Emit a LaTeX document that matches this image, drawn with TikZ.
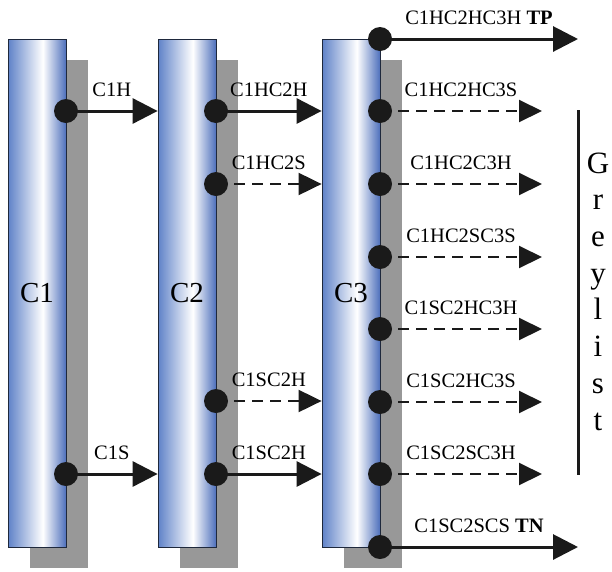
\documentclass[tikz,border=0pt]{standalone}
\usepackage{fontspec}
\setmainfont{Liberation Serif}
\usetikzlibrary{arrows.meta,shadows}
\definecolor{cl}{RGB}{95,130,200}
\definecolor{cr}{RGB}{78,112,188}
\definecolor{shadowgray}{RGB}{152,152,152}
\definecolor{dotc}{RGB}{26,26,26}
\definecolor{edge}{RGB}{30,40,60}
\pgfdeclarehorizontalshading{colshade}{100bp}{color(0bp)=(cl); color(25bp)=(cl); color(55bp)=(white); color(75bp)=(cr); color(100bp)=(cr)}
\begin{document}
\begin{tikzpicture}[x=1pt,y=-1pt,
  col/.style={draw=edge, line width=0.8pt, shade, shading=colshade, minimum width=58pt, minimum height=508pt, inner sep=0pt, font=\fontsize{29}{30}\selectfont, drop shadow={shadow xshift=22pt, shadow yshift=-21pt, fill=shadowgray, opacity=1}},
  dot/.style={circle, fill=dotc, minimum size=24pt, inner sep=0pt},
  sarrow/.style={line width=3pt, draw=dotc, -{Triangle[length=25pt,width=25pt]}},
  darrow/.style={line width=2pt, draw=dotc, dash pattern=on 11pt off 7pt, -{Triangle[length=23pt,width=22pt]}},
  lab/.style={font=\fontsize{20.5}{24}\selectfont, inner sep=0pt, anchor=base, yshift=15pt}]
\useasboundingbox (0,0) rectangle (612,571);
% columns
\node[col] (c1) at (37,293) {C1};
\node[col] (c2) at (187,293) {C2};
\node[col] (c3) at (351,293) {C3};
% dots
\node[dot] (a1) at (66,111) {};
\node[dot] (a2) at (66,474) {};
\node[dot] (b1) at (216,111) {};
\node[dot] (b2) at (216,184) {};
\node[dot] (b3) at (216,401) {};
\node[dot] (b4) at (216,474) {};
\node[dot] (t0) at (380,39) {};
\node[dot] (t1) at (380,111) {};
\node[dot] (t2) at (380,184) {};
\node[dot] (t3) at (380,257) {};
\node[dot] (t4) at (380,329) {};
\node[dot] (t5) at (380,402) {};
\node[dot] (t6) at (380,474) {};
\node[dot] (t7) at (380,547) {};
\coordinate (dend) at (542,0);
\coordinate (send) at (578,0);
% stage 1
\draw[sarrow] (a1.center) -- (a1 -| c2.west) node[lab, midway] {C1H};
\draw[sarrow] (a2.center) -- (a2 -| c2.west) node[lab, midway] {C1S};
% stage 2
\draw[sarrow] (b1.center) -- (b1 -| c3.west) node[lab, midway] {C1HC2H};
\draw[darrow] (b2.center) -- (b2 -| c3.west) node[lab, midway] {C1HC2S};
\draw[darrow] (b3.center) -- (b3 -| c3.west) node[lab, midway] {C1SC2H};
\draw[sarrow] (b4.center) -- (b4 -| c3.west) node[lab, midway] {C1SC2H};
% stage 3
\draw[sarrow] (t0.center) -- (t0 -| send) node[lab, midway] {C1HC2HC3H \textbf{TP}};
\draw[darrow] (t1.center) -- (t1 -| dend) node[lab, midway] {C1HC2HC3S};
\draw[darrow] (t2.center) -- (t2 -| dend) node[lab, midway] {C1HC2C3H};
\draw[darrow] (t3.center) -- (t3 -| dend) node[lab, midway] {C1HC2SC3S};
\draw[darrow] (t4.center) -- (t4 -| dend) node[lab, midway] {C1SC2HC3H};
\draw[darrow] (t5.center) -- (t5 -| dend) node[lab, midway] {C1SC2HC3S};
\draw[darrow] (t6.center) -- (t6 -| dend) node[lab, midway] {C1SC2SC3H};
\draw[sarrow] (t7.center) -- (t7 -| send) node[lab, midway] {C1SC2SCS \textbf{TN}};
% greylist
\coordinate (g1) at (578,110);
\coordinate (g2) at (578,475);
\draw[line width=3pt, draw=dotc] (g1) -- (g2);
\node[font=\fontsize{31}{36.7}\selectfont, align=center, inner sep=0pt, anchor=base] (gl) at (598,430) {G\\r\\e\\y\\l\\i\\s\\t};
\end{tikzpicture}
\end{document}
